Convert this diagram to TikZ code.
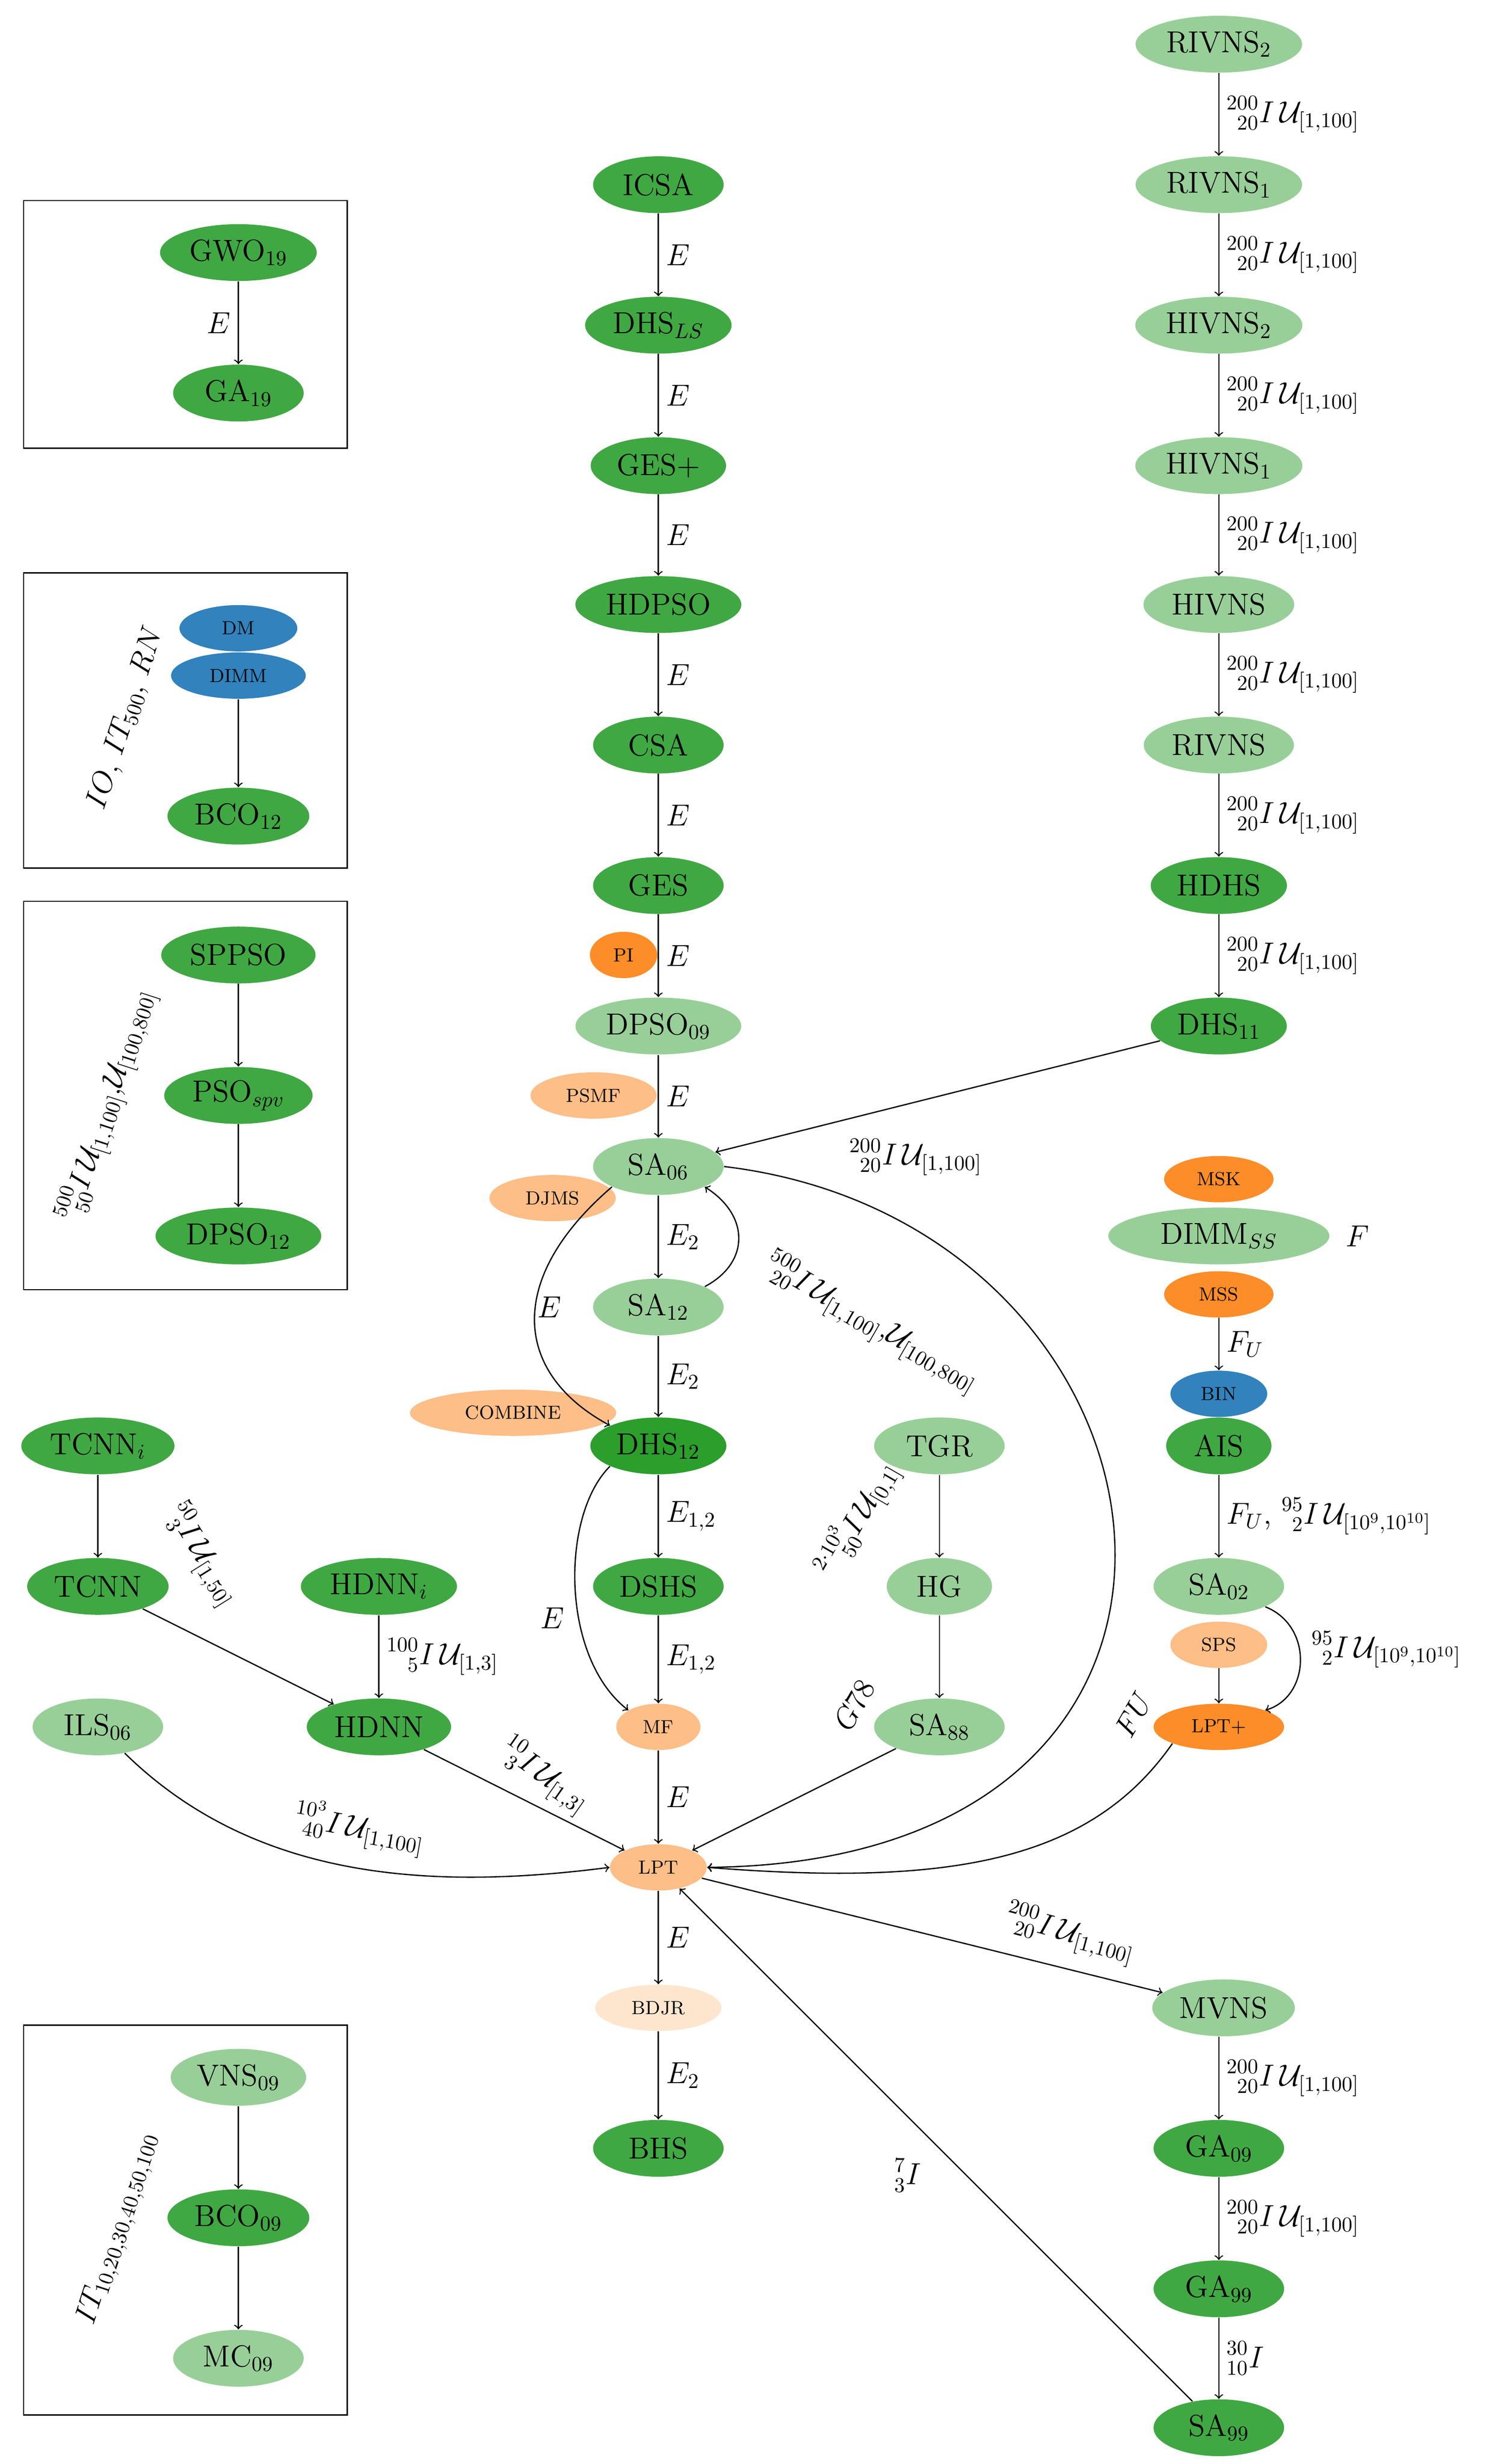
\documentclass[tikz,border=0pt]{standalone}
\usepackage{mathtools}
\usetikzlibrary{shapes.geometric}
\definecolor{dg}{RGB}{64,168,66}
\definecolor{dk}{RGB}{44,158,44}
\definecolor{lg}{RGB}{152,207,152}
\definecolor{og}{RGB}{253,141,40}
\definecolor{lo}{RGB}{253,190,135}
\definecolor{vlo}{RGB}{254,230,206}
\definecolor{bl}{RGB}{49,130,189}
\newcommand{\pU}[3]{$\prescript{#1}{#2}{I}\,\mathcal{U}_{#3}$}
\begin{document}
\begin{tikzpicture}[x=0.75pt,y=-0.75pt,
 n/.style={ellipse,draw=none,font=\Large,inner xsep=3pt,inner ysep=0pt,minimum height=27pt,minimum width=62pt},
 s/.style={ellipse,draw=none,font=\small,inner xsep=2pt,inner ysep=0pt,minimum height=22pt,minimum width=32pt},
 e/.style={->,line width=0.6pt},
 l/.style={font=\Large},
 box/.style={draw,line width=0.6pt}]
\useasboundingbox (0,0) rectangle (945,1561);
% boxes
\draw[box] (15,127) rectangle (220,284);
\draw[box] (15,363) rectangle (220,550);
\draw[box] (15,571) rectangle (220,817);
\draw[box] (15,1283) rectangle (220,1530);
\node[n,fill=dg] (gwo) at (151,160) {GWO$_{19}$};
\node[n,fill=dg] (ga19) at (151,249) {GA$_{19}$};
\draw[e] (gwo) -- node[l,left]{$E$} (ga19);
\node[s,fill=bl,minimum width=56pt] (dm) at (151,398) {DM};
\node[s,fill=bl,minimum width=64pt] (dimm) at (151,428) {DIMM};
\node[n,fill=dg] (bco12) at (151,517) {BCO$_{12}$};
\draw[e] (dimm) -- (bco12);
\node[l,rotate=72] at (80,455) {$IO$, $IT_{500}$, $RN$};
\node[n,fill=dg] (sppso) at (151,605) {SPPSO};
\node[n,fill=dg] (pso) at (151,694) {PSO$_{spv}$};
\node[n,fill=dg] (dpso12) at (151,783) {DPSO$_{12}$};
\draw[e] (sppso) -- (pso);
\draw[e] (pso) -- (dpso12);
\node[l,rotate=72] at (68,700) {\pU{500}{50}{[1,100]},$\mathcal{U}_{[100,800]}$};
\node[n,fill=lg] (vns) at (151,1316) {VNS$_{09}$};
\node[n,fill=dg] (bco09) at (151,1405) {BCO$_{09}$};
\node[n,fill=lg] (mc) at (151,1494) {MC$_{09}$};
\draw[e] (vns) -- (bco09);
\draw[e] (bco09) -- (mc);
\node[l,rotate=72] at (75,1412) {$IT_{10,20,30,40,50,100}$};
% middle column
\node[n,fill=dg] (icsa) at (417,117) {ICSA};
\node[n,fill=dg] (dhsls) at (417,206) {DHS$_{LS}$};
\node[n,fill=dg] (ges+) at (417,295) {GES+};
\node[n,fill=dg] (hdpso) at (417,383) {HDPSO};
\node[n,fill=dg] (csa) at (417,472) {CSA};
\node[n,fill=dg] (ges) at (417,561) {GES};
\node[n,fill=lg] (dpso09) at (417,650) {DPSO$_{09}$};
\node[n,fill=lg] (sa06) at (417,739) {SA$_{06}$};
\node[n,fill=lg] (sa12) at (417,828) {SA$_{12}$};
\node[n,fill=dk] (dhs12) at (417,916) {DHS$_{12}$};
\node[n,fill=dg] (dshs) at (417,1005) {DSHS};
\node[s,fill=lo,minimum width=40pt] (mf) at (417,1094) {MF};
\node[s,fill=lo,minimum width=46pt] (lpt) at (417,1183) {LPT};
\node[s,fill=vlo,minimum width=60pt] (bdjr) at (417,1272) {BDJR};
\node[n,fill=dg] (bhs) at (417,1361) {BHS};
\node[s,fill=og] at (395,605) {PI};
\node[s,fill=lo,minimum width=60pt] at (376,694) {PSMF};
\node[s,fill=lo,minimum width=60pt] at (350,759) {DJMS};
\node[s,fill=lo,minimum width=98pt] at (325,895) {COMBINE};
\draw[e] (icsa) -- node[l,right]{$E$} (dhsls);
\draw[e] (dhsls) -- node[l,right]{$E$} (ges+);
\draw[e] (ges+) -- node[l,right]{$E$} (hdpso);
\draw[e] (hdpso) -- node[l,right]{$E$} (csa);
\draw[e] (csa) -- node[l,right]{$E$} (ges);
\draw[e] (ges) -- node[l,right]{$E$} (dpso09);
\draw[e] (dpso09) -- node[l,right]{$E$} (sa06);
\draw[e] (sa06) -- node[l,right]{$E_2$} (sa12);
\draw[e] (sa12) -- node[l,right]{$E_2$} (dhs12);
\draw[e] (dhs12) -- node[l,right]{$E_{1,2}$} (dshs);
\draw[e] (dshs) -- node[l,right]{$E_{1,2}$} (mf);
\draw[e] (mf) -- node[l,right]{$E$} (lpt);
\draw[e] (lpt) -- node[l,right]{$E$} (bdjr);
\draw[e] (bdjr) -- node[l,right]{$E_2$} (bhs);
\draw[e] (sa12.north east) .. controls (475,800) and (475,770) .. (sa06.south east);
\node[l,rotate=-30] at (552,838) {\pU{500}{20}{[1,100]},$\mathcal{U}_{[100,800]}$};
\draw[e] (sa06.south west) .. controls (320,810) and (325,870) .. (dhs12.north west);
\node[l] at (348,828) {$E$};
\draw[e] (dhs12.south west) .. controls (355,960) and (355,1050) .. (mf.north west);
\node[l] at (350,1025) {$E$};
% right column
\node[n,fill=lg] (rivns2) at (772,28) {RIVNS$_2$};
\node[n,fill=lg] (rivns1) at (772,117) {RIVNS$_1$};
\node[n,fill=lg] (hivns2) at (772,206) {HIVNS$_2$};
\node[n,fill=lg] (hivns1) at (772,295) {HIVNS$_1$};
\node[n,fill=lg] (hivns) at (772,383) {HIVNS};
\node[n,fill=lg] (rivns) at (772,472) {RIVNS};
\node[n,fill=dg] (hdhs) at (772,561) {HDHS};
\node[n,fill=dg] (dhs11) at (772,650) {DHS$_{11}$};
\foreach \a/\b in {rivns2/rivns1,rivns1/hivns2,hivns2/hivns1,hivns1/hivns,hivns/rivns,rivns/hdhs,hdhs/dhs11}
  \draw[e] (\a) -- node[l,right]{\pU{200}{20}{[1,100]}} (\b);
\draw[e] (dhs11) -- (sa06);
\node[l] at (580,733) {\pU{200}{20}{[1,100]}};
\draw[e] (sa06.east) .. controls (760,775) and (820,1180) .. (lpt.east);
\node[s,fill=og,minimum width=52pt] (msk) at (772,747) {MSK};
\node[n,fill=lg,minimum width=105pt] (dimmss) at (772,783) {DIMM$_{SS}$};
\node[s,fill=og,minimum width=52pt] (mss) at (772,820) {MSS};
\node[l] at (860,783) {$F$};
\node[s,fill=bl,minimum width=46pt] (bin) at (772,883) {BIN};
\node[n,fill=dg,minimum width=50pt] (ais) at (772,916) {AIS};
\draw[e] (mss) -- node[l,right]{$F_U$} (bin);
\node[n,fill=lg] (sa02) at (772,1005) {SA$_{02}$};
\draw[e] (ais) -- node[l,right]{$F_U$, \pU{95}{2}{[10^9,10^{10}]}} (sa02);
\node[s,fill=lo,minimum width=46pt] (sps) at (772,1042) {SPS};
\node[s,fill=og,minimum width=62pt] (lptp) at (772,1094) {LPT+};
\draw[e] (sps) -- (lptp);
\draw[e] (sa02.south east) .. controls (832,1030) and (830,1075) .. (lptp.north east);
\node[l,right] at (826,1045) {\pU{95}{2}{[10^9,10^{10}]}};
\draw[e] (lptp.south west) .. controls (690,1180) and (600,1195) .. (lpt.east);
\node[l,rotate=60] at (718,1086) {$FU$};
% TGR column
\node[n,fill=lg] (tgr) at (595,916) {TGR};
\node[n,fill=lg,minimum width=50pt] (hg) at (595,1005) {HG};
\node[n,fill=lg] (sa88) at (595,1094) {SA$_{88}$};
\draw[e] (tgr) -- (hg);
\draw[e] (hg) -- (sa88);
\node[l,rotate=60] at (543,962) {\pU{2\cdot10^3}{50}{[0,1]}};
\draw[e] (sa88) -- (lpt);
\node[l,rotate=60] at (541,1080) {$G78$};
% left
\node[n,fill=dg] (tcnni) at (62,916) {TCNN$_i$};
\node[n,fill=dg] (tcnn) at (62,1005) {TCNN};
\node[n,fill=dg] (hdnni) at (240,1005) {HDNN$_i$};
\node[n,fill=dg] (hdnn) at (240,1094) {HDNN};
\node[n,fill=lg] (ils) at (62,1094) {ILS$_{06}$};
\draw[e] (tcnni) -- (tcnn);
\node[l,rotate=-58] at (128,985) {\pU{50}{3}{[1,50]}};
\draw[e] (tcnn) -- (hdnn);
\draw[e] (hdnni) -- node[l,right]{\pU{100}{5}{[1,3]}} (hdnn);
\draw[e] (hdnn) -- (lpt);
\node[l,rotate=-35] at (345,1125) {\pU{10}{3}{[1,3]}};
\draw[e] (ils) .. controls (160,1190) and (270,1198) .. (lpt.west);
\node[l,rotate=-10] at (228,1158) {\pU{10^3}{40}{[1,100]}};
% bottom right
\node[n,fill=lg] (mvns) at (775,1272) {MVNS};
\node[n,fill=dg] (ga09) at (772,1361) {GA$_{09}$};
\node[n,fill=dg] (ga99) at (772,1450) {GA$_{99}$};
\node[n,fill=dg] (sa99) at (772,1538) {SA$_{99}$};
\draw[e] (lpt) -- (mvns);
\node[l,rotate=-15] at (678,1225) {\pU{200}{20}{[1,100]}};
\draw[e] (mvns.south -| ga09) -- node[l,right]{\pU{200}{20}{[1,100]}} (ga09);
\draw[e] (ga09) -- node[l,right]{\pU{200}{20}{[1,100]}} (ga99);
\draw[e] (ga99) -- node[l,right]{$\prescript{30}{10}{I}$} (sa99);
\draw[e] (sa99) -- (lpt);
\node[l] at (575,1378) {$\prescript{7}{3}{I}$};
\end{tikzpicture}
\end{document}
